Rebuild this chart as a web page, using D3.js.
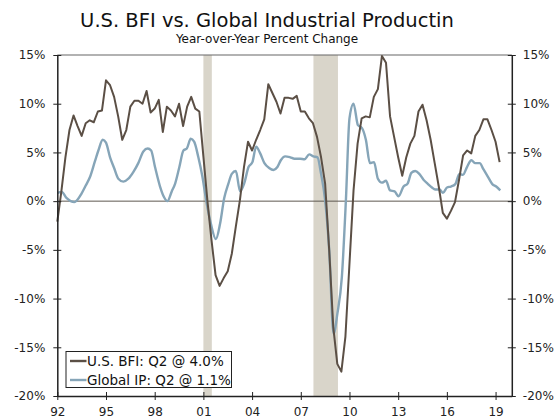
<!DOCTYPE html>
<html><head><meta charset="utf-8">
<script src="https://cdn.jsdelivr.net/npm/d3@7"></script>
<style>html,body{margin:0;padding:0;background:#fff;}svg{display:block;font-family:"DejaVu Sans",Verdana,sans-serif;}</style>
</head><body><svg id="c" width="554" height="419"></svg>
<script>
// BFI: quarterly, 1992Q1 .. 2019Q2 (y/y %)
const bfiStartYear = 1992;
const bfiValues = [
 -2.1, 1.0, 4.5, 7.3,
  8.8, 7.7, 6.7, 8.0,
  8.3, 8.1, 9.2, 9.3,
 12.4,11.9,10.7, 8.7,
  6.3, 7.3, 9.7,10.3,
 10.3,10.0,11.3, 9.1,
  9.5,10.4, 7.1, 9.7,
  9.3, 8.7,10.0, 7.7,
  9.7,10.7, 9.5, 9.2,
  4.6, 0.0,-4.0,-7.6,
 -8.7,-7.9,-7.2,-5.4,
 -2.6, 0.1, 3.5, 6.1,
  5.2, 6.3, 7.3, 8.4,
 12.0,11.1,10.2, 9.0,
 10.6,10.6,10.5,10.8,
  9.2, 9.2, 8.5, 8.0,
  6.6, 4.5, 1.8,-5.0,
-12.9,-16.7,-17.5,-13.9,
 -6.4, 1.1, 5.9, 8.5,
  8.7, 8.6,10.7,11.5,
 14.9,14.2, 8.7, 6.6,
  4.5, 2.6, 4.5, 5.9,
  6.7, 9.2, 9.9, 8.3,
  6.3, 3.9, 1.5,-1.2,
 -1.8,-1.0,-0.1, 2.2,
  4.7, 5.2, 4.9, 6.7,
  7.3, 8.4, 8.4, 7.3,
  6.1, 4.0
];
// Global IP: dates (decimal years) and y/y %
const ipDates = [1992.02,1992.27,1992.58,1993.05,1993.50,1993.75,1994.02,1994.32,1994.53,1994.80,
 1995.00,1995.25,1995.50,1995.76,1996.07,1996.38,1996.69,1996.99,1997.30,1997.57,1997.78,
 1998.02,1998.33,1998.58,1998.78,1999.05,1999.26,1999.52,1999.77,1999.98,2000.22,2000.43,2000.69,2000.94,
 2001.17,2001.46,2001.77,2002.03,2002.28,2002.54,2002.75,2003.00,2003.26,2003.51,2003.78,
 2004.02,2004.25,2004.50,2004.76,2005.05,2005.32,2005.56,2005.77,2006.04,2006.35,2006.61,2006.96,
 2007.23,2007.52,2007.78,2008.03,2008.25,2008.50,2008.75,2009.02,2009.26,2009.53,2009.78,
 2010.00,2010.25,2010.52,2010.77,2011.01,2011.26,2011.51,2011.75,2012.00,2012.25,2012.50,2012.78,
 2013.02,2013.33,2013.58,2013.81,2014.05,2014.30,2014.56,2014.81,2015.08,2015.28,2015.55,2015.76,
 2016.01,2016.25,2016.52,2016.77,2016.99,2017.24,2017.51,2017.75,2018.02,2018.26,2018.53,2018.80,
 2019.04,2019.29];
const ipValues = [0.85,0.95,0.3,-0.1,0.8,1.6,2.5,4.1,5.2,6.3,
 6.0,4.5,3.4,2.3,2.0,2.3,3.0,3.9,5.1,5.4,5.2,
 3.5,1.5,0.4,0.0,1.0,1.8,3.5,5.2,5.4,6.4,6.1,4.5,2.5,
 0.1,-2.3,-3.9,-2.3,0.3,1.8,2.8,3.1,1.0,1.8,3.5,
 4.0,5.6,4.9,3.9,3.4,3.2,3.5,4.2,4.6,4.5,4.35,4.35,
 4.3,4.8,4.6,4.5,2.8,0.1,-5.0,-13.6,-11.5,-7.8,0.1,
 8.5,10.0,7.8,7.5,6.3,3.9,4.0,2.3,1.9,2.1,1.1,1.0,
 0.5,1.5,1.8,2.9,3.1,2.8,2.2,1.8,1.4,1.2,1.2,0.85,
 1.4,1.5,1.75,2.8,2.7,3.5,4.2,3.9,3.9,3.25,2.5,1.75,
 1.5,1.1];
const recessions = [[2001.0, 2001.52], [2007.78, 2009.29]];
const yTicks = [15, 10, 5, 0, -5, -10, -15, -20];
const xTicks = [1992, 1995, 1998, 2001, 2004, 2007, 2010, 2013, 2016, 2019];
const seriesNames = ["U.S. BFI: Q2 @ 4.0%", "Global IP: Q2 @ 1.1%"];
const colors = ["#5b4f45", "#86a5b8"];
const title = "U.S. BFI vs. Global Industrial Productin";
const subtitle = "Year-over-Year Percent Change";

const svg = d3.select("#c");
const L = 57.3, R = 511.8, T = 55, B = 396;
const x = d3.scaleLinear().domain([1992, 2020]).range([L, R]);
const y = d3.scaleLinear().domain([-20, 15]).range([B, T]);

// recessions
svg.append("g").selectAll("rect").data(recessions).join("rect")
  .attr("x", d => x(d[0])).attr("width", d => x(d[1]) - x(d[0]))
  .attr("y", T).attr("height", B - T).attr("fill", "#d9d5ca");

// top line and zero line
svg.append("line").attr("x1", L).attr("x2", R).attr("y1", y(15)).attr("y2", y(15))
  .attr("stroke", "#666").attr("stroke-width", 1.2);
svg.append("line").attr("x1", L).attr("x2", R).attr("y1", y(0)).attr("y2", y(0))
  .attr("stroke", "#5e5850").attr("stroke-width", 1);

// lines
const bfi = bfiValues.map((v, i) => ({t: bfiStartYear + i / 4, v}));
const ip = ipValues.map((v, i) => ({t: ipDates[i], v}));
svg.append("path").datum(ip)
  .attr("d", d3.line().x(d => x(d.t)).y(d => y(d.v)).curve(d3.curveMonotoneX))
  .attr("fill", "none").attr("stroke", colors[1]).attr("stroke-width", 2.4).attr("stroke-linejoin", "round");
svg.append("path").datum(bfi)
  .attr("d", d3.line().x(d => x(d.t)).y(d => y(d.v)))
  .attr("fill", "none").attr("stroke", colors[0]).attr("stroke-width", 2).attr("stroke-linejoin", "round");

// axes
function styleAxis(g) {
  g.selectAll(".domain").attr("stroke", "#222").attr("stroke-width", 1.5);
  g.selectAll(".tick line").attr("stroke", "#222").attr("stroke-width", 1);
  g.selectAll(".tick text").attr("fill", "#222").style("font-size", "12px")
    .style("font-family", "'DejaVu Sans', Verdana, sans-serif");
}
const fmtPct = d => d + "%";
const gl = svg.append("g").attr("transform", `translate(${L},0)`)
  .call(d3.axisLeft(y).tickValues(yTicks).tickFormat(fmtPct).tickSizeInner(4).tickSizeOuter(0).tickPadding(8));
gl.selectAll(".tick line").attr("x1", 4).attr("x2", -4);
styleAxis(gl);
const gr = svg.append("g").attr("transform", `translate(${R},0)`)
  .call(d3.axisRight(y).tickValues(yTicks).tickFormat(fmtPct).tickSizeInner(4).tickSizeOuter(0).tickPadding(7));
gr.selectAll(".tick line").attr("x1", -4).attr("x2", 4);
styleAxis(gr);
const gb = svg.append("g").attr("transform", `translate(0,${B})`)
  .call(d3.axisBottom(x).tickValues(xTicks).tickFormat(d => String(d).slice(2)).tickSizeInner(4).tickSizeOuter(0).tickPadding(7));
gb.selectAll(".tick line").attr("y1", -4).attr("y2", 4);
styleAxis(gb);

// title
svg.append("text").attr("x", 267).attr("y", 27).attr("text-anchor", "middle")
  .style("font-size", "19.5px").attr("fill", "#111").text(title);
svg.append("text").attr("x", 267).attr("y", 42.5).attr("text-anchor", "middle")
  .style("font-size", "12px").attr("fill", "#111").text(subtitle);

// legend
const lg = svg.append("g");
lg.append("rect").attr("x", 66).attr("y", 351.5).attr("width", 165.5).attr("height", 36)
  .attr("fill", "#fff").attr("stroke", "#222").attr("stroke-width", 1);
seriesNames.forEach((n, i) => {
  const yy = 361 + i * 19;
  lg.append("line").attr("x1", 70).attr("x2", 86.5).attr("y1", yy).attr("y2", yy)
    .attr("stroke", colors[i]).attr("stroke-width", 2.4);
  lg.append("text").attr("x", 87).attr("y", yy + 4.5).style("font-size", "13.5px").attr("fill", "#111").text(n);
});
</script></body></html>
